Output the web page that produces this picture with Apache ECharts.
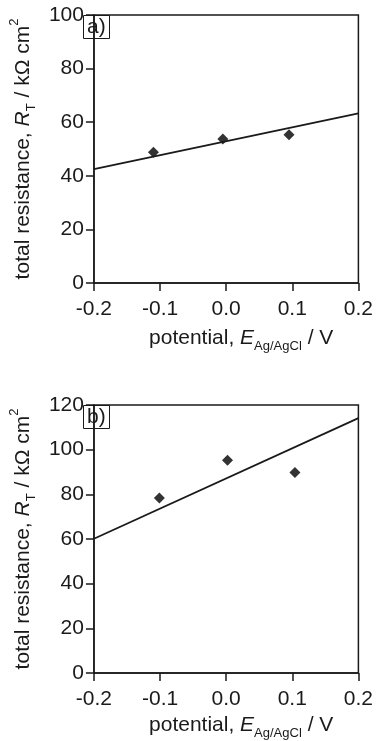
<!DOCTYPE html>
<html>
<head>
<meta charset="utf-8">
<script src="https://cdn.jsdelivr.net/npm/echarts@6/dist/echarts.min.js"></script>
<style>
  html, body { margin: 0; padding: 0; background: #fff; }
  #main { width: 376px; height: 741px; }
</style>
</head>
<body>
<div id="main"></div>
<script>
// panel a) measured points and linear fit
var potentialA = [-0.11, -0.005, 0.095];
var resistanceA = [48.8, 53.7, 55.3];
var fitA = [[-0.2, 42.5], [0.2, 63.3]];

// panel b)
var potentialB = [-0.101, 0.002, 0.104];
var resistanceB = [78.4, 95.3, 89.8];
var fitB = [[-0.2, 60.1], [0.2, 114.1]];

var panelLabels = ['a)', 'b)'];
var yMax = [100, 120];

var font = 'Liberation Sans, Arial, Helvetica, sans-serif';
var ink = '#1a1a1a';

function pairs(xs, ys) {
    var out = [];
    for (var i = 0; i < xs.length; i++) out.push([xs[i], ys[i]]);
    return out;
}

var richName = {
    m: {fontSize: 21, fontFamily: font, color: ink, lineHeight: 30, verticalAlign: 'middle'},
    i: {fontSize: 21, fontFamily: font, color: ink, fontStyle: 'italic', lineHeight: 30, verticalAlign: 'middle'},
    s: {fontSize: 13, fontFamily: font, color: ink, lineHeight: 30, verticalAlign: 'bottom'},
    p: {fontSize: 13, fontFamily: font, color: ink, lineHeight: 30, verticalAlign: 'top'}
};

var grids = [
    {left: 83, top: 15, width: 276, height: 268},
    {left: 83, top: 405, width: 276, height: 272}
];

var xAxes = [], yAxes = [], titles = [];
grids.forEach(function (g, k) {
    g.show = true;
    g.borderColor = ink;
    g.borderWidth = 1.5;
    g.containLabel = false;
    xAxes.push({
        gridIndex: k,
        type: 'value',
        min: -0.2, max: 0.2, interval: 0.1,
        name: '{m|potential, }{i|E}{s|Ag/AgCl}{m| / V}',
        nameLocation: 'middle',
        nameGap: k === 0 ? 40 : 37,
        nameTextStyle: {rich: richName, padding: [0, 0, 0, 30]},
        axisLine: {onZero: false, lineStyle: {color: ink, width: 1.5}},
        axisTick: {length: 8, lineStyle: {color: ink, width: 1.5}},
        axisLabel: {
            margin: 16, fontSize: 21, fontFamily: font, color: ink,
            formatter: function (v) { return (Math.abs(v) < 1e-9 ? 0 : v).toFixed(1); }
        },
        splitLine: {show: false}
    });
    yAxes.push({
        gridIndex: k,
        type: 'value',
        min: 0, max: yMax[k], interval: 20,
        name: '{m|total resistance, }{i|R}{s|T}{m| / kΩ cm}{p|2}',
        nameLocation: 'middle',
        nameRotate: 90,
        nameGap: 38,
        nameTextStyle: {rich: richName},
        axisLine: {onZero: false, lineStyle: {color: ink, width: 1.5}},
        axisTick: {length: 8, lineStyle: {color: ink, width: 1.5}},
        axisLabel: {margin: 10, fontSize: 21, fontFamily: font, color: ink},
        splitLine: {show: false}
    });
    titles.push({
        text: panelLabels[k],
        left: g.left, top: g.top,
        borderColor: ink, borderWidth: 1,
        padding: [1, 4, 1, 4],
        textStyle: {fontSize: 21, fontWeight: 'normal', fontFamily: font, color: ink, lineHeight: 22}
    });
});

var myChart = echarts.init(document.getElementById('main'));
var option = {
    animation: false,
    backgroundColor: '#fff',
    title: titles,
    grid: grids,
    xAxis: xAxes,
    yAxis: yAxes,
    series: [
        {type: 'line', xAxisIndex: 0, yAxisIndex: 0, data: fitA, showSymbol: false,
            lineStyle: {color: ink, width: 1.8}},
        {type: 'scatter', xAxisIndex: 0, yAxisIndex: 0, data: pairs(potentialA, resistanceA),
            symbol: 'diamond', symbolSize: 11, itemStyle: {color: '#000'}},
        {type: 'line', xAxisIndex: 1, yAxisIndex: 1, data: fitB, showSymbol: false,
            lineStyle: {color: ink, width: 1.8}},
        {type: 'scatter', xAxisIndex: 1, yAxisIndex: 1, data: pairs(potentialB, resistanceB),
            symbol: 'diamond', symbolSize: 11, itemStyle: {color: '#000'}}
    ]
};
myChart.setOption(option);
</script>
</body>
</html>
